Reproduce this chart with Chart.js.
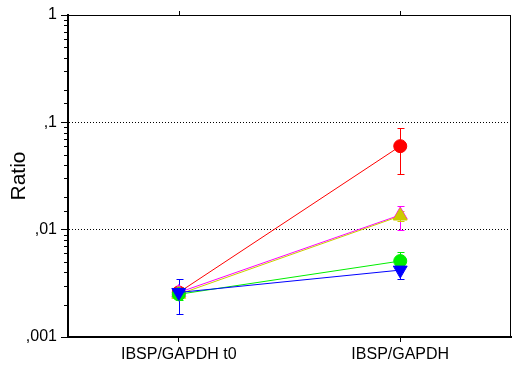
<!DOCTYPE html>
<html>
<head>
<meta charset="utf-8">
<script src="https://cdn.jsdelivr.net/npm/chart.js@4/dist/chart.umd.min.js"></script>
<style>
  html, body { margin: 0; padding: 0; background: #fff; }
  #wrap { width: 512px; height: 367px; }
</style>
</head>
<body>
<div id="wrap"><canvas id="chart" width="512" height="367"></canvas></div>
<script>
const categories = ['IBSP/GAPDH t0', 'IBSP/GAPDH'];

// y axis ticks that get a label (comma decimals as in the original)
const tickValues = [1, 0.1, 0.01, 0.001];
const tickLabels = ['1', ',1', ',01', ',001'];
const gridValues = [0.1, 0.01];

// series, in draw order bottom -> top
const seriesColors = ['#ff0000', '#ff00ff', '#cccc00', '#00ee00', '#0000ff'];
const seriesShapes = ['circle', 'triangle', 'triangle', 'circle', 'triangle'];
const seriesRotation = [0, 0, 0, 0, 180];

const redValues = [0.0026, 0.060];
const redLow = [0.0024, 0.033];
const redHigh = [0.0029, 0.088];

const magentaValues = [0.0026, 0.0137];
const magentaLow = [0.0023, 0.0100];
const magentaHigh = [0.0029, 0.0166];

const yellowValues = [0.0025, 0.0134];
const yellowLow = [0.0023, 0.0120];
const yellowHigh = [0.0028, 0.0150];

const greenValues = [0.0025, 0.0051];
const greenLow = [0.0022, 0.0045];
const greenHigh = [0.0029, 0.0062];

const blueValues = [0.0026, 0.0042];
const blueLow = [0.00164, 0.00348];
const blueHigh = [0.00346, 0.0048];

const allValues = [redValues, magentaValues, yellowValues, greenValues, blueValues];
const allLow = [redLow, magentaLow, yellowLow, greenLow, blueLow];
const allHigh = [redHigh, magentaHigh, yellowHigh, greenHigh, blueHigh];

const FONT = 'Arial, "Liberation Sans", sans-serif';

function sameVal(a, b) {
  return Math.abs(a - b) < b * 1e-6;
}
function isMajor(v) {
  return tickValues.some(t => sameVal(v, t));
}

const errorBars = {
  id: 'errorBars',
  beforeDatasetsDraw(chart) {
    const ctx = chart.ctx;
    const x = chart.scales.x;
    const y = chart.scales.y;
    ctx.save();
    ctx.lineWidth = 1;
    allValues.forEach((vals, s) => {
      ctx.strokeStyle = seriesColors[s];
      vals.forEach((v, i) => {
        const px = Math.round(x.getPixelForValue(i)) + 0.5;
        const top = Math.round(y.getPixelForValue(allHigh[s][i])) + 0.5;
        const bot = Math.round(y.getPixelForValue(allLow[s][i])) + 0.5;
        ctx.beginPath();
        ctx.moveTo(px, top); ctx.lineTo(px, bot);
        ctx.moveTo(px - 3, top); ctx.lineTo(px + 4, top);
        ctx.moveTo(px - 3, bot); ctx.lineTo(px + 4, bot);
        ctx.stroke();
      });
    });
    ctx.restore();
  }
};

const frame = {
  id: 'frame',
  afterDraw(chart) {
    const ctx = chart.ctx;
    const a = chart.chartArea;
    const x = chart.scales.x;
    const y = chart.scales.y;
    ctx.save();
    ctx.strokeStyle = '#000';
    ctx.lineWidth = 1;
    ctx.beginPath();
    // top and right edges of the box
    ctx.moveTo(a.left, a.top + 0.5); ctx.lineTo(a.right, a.top + 0.5);
    ctx.moveTo(a.right - 0.5, a.top); ctx.lineTo(a.right - 0.5, a.bottom);
    // category ticks on the top edge
    x.ticks.forEach((t, i) => {
      const px = Math.round(x.getPixelForTick(i)) + 0.5;
      ctx.moveTo(px, a.top); ctx.lineTo(px, a.top - 4);
    });
    // short minor ticks on the log axis
    y.ticks.forEach((t, i) => {
      if (isMajor(t.value)) return;
      const py = Math.round(y.getPixelForTick(i)) + 0.5;
      ctx.moveTo(a.left - 4, py); ctx.lineTo(a.left, py);
    });
    ctx.stroke();
    ctx.restore();
  }
};

const datasets = allValues.map((vals, i) => ({
  data: vals,
  borderColor: seriesColors[i],
  borderWidth: 1,
  backgroundColor: seriesColors[i],
  pointBackgroundColor: seriesColors[i],
  pointBorderColor: seriesColors[i],
  pointStyle: seriesShapes[i],
  pointRotation: seriesRotation[i],
  pointRadius: seriesShapes[i] === 'circle' ? 6.5 : 8,
  tension: 0,
  fill: false,
  order: allValues.length - 1 - i
}));

new Chart(document.getElementById('chart'), {
  type: 'line',
  data: { labels: categories, datasets: datasets },
  plugins: [errorBars, frame],
  options: {
    responsive: false,
    animation: false,
    events: [],
    // no extra room for point radius, the box runs to the canvas edge
    layout: { autoPadding: false, padding: { top: 15, right: 1, left: 0, bottom: 0 } },
    plugins: { legend: { display: false }, tooltip: { enabled: false } },
    scales: {
      x: {
        type: 'category',
        offset: true,
        afterFit(s) { s.height = 30; },
        grid: { drawOnChartArea: false, offset: false, tickLength: 5, color: '#000' },
        border: { color: '#000', width: 2 },
        ticks: { color: '#000', font: { family: FONT, size: 16 }, padding: 3, maxRotation: 0 }
      },
      y: {
        type: 'logarithmic',
        min: 0.001,
        max: 1,
        afterFit(s) { s.width = 68; },
        title: { display: true, text: 'Ratio', color: '#000', font: { family: FONT, size: 21 }, padding: { top: 7, bottom: 0 } },
        grid: {
          color: c => gridValues.some(g => sameVal(c.tick.value, g)) ? '#000' : 'rgba(0,0,0,0)',
          tickColor: c => isMajor(c.tick.value) ? '#000' : 'rgba(0,0,0,0)',
          tickLength: 7,
          lineWidth: 1
        },
        border: { color: '#000', width: 2, dash: [1, 2] },
        ticks: {
          autoSkip: false,
          color: '#000',
          padding: 4,
          font: { family: FONT, size: 16 },
          callback: v => {
            const k = tickValues.findIndex(t => sameVal(v, t));
            return k >= 0 ? tickLabels[k] : '';
          }
        }
      }
    }
  }
});
</script>
</body>
</html>
